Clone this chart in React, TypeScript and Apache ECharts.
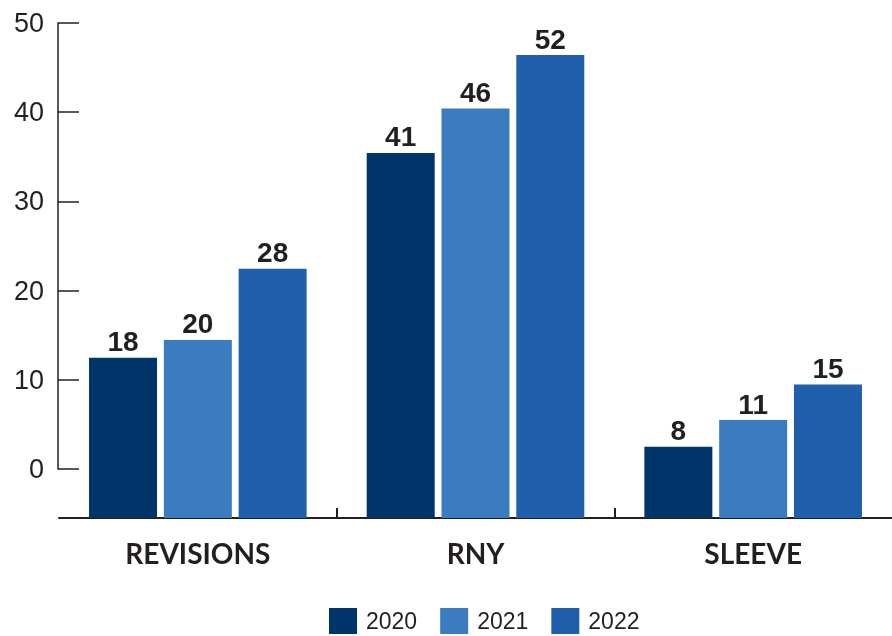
import React, { useEffect, useRef } from "react";
import * as echarts from "echarts";

const categories = ["REVISIONS", "RNY", "SLEEVE"];
const seriesNames = ["2020", "2021", "2022"];
const values2020 = [18, 41, 8];
const values2021 = [20, 46, 11];
const values2022 = [28, 52, 15];
const yTickMin = 0;
const yTickMax = 50;
const yTickStep = 10;
const categoryBoundaryTicks = [1, 2];
const colors = ["#00356a", "#3b7bbf", "#1f5fab"];

const TEXT = "#231f20";

export default function App() {
  const ref = useRef<HTMLDivElement>(null);
  useEffect(() => {
    const chart = echarts.init(ref.current!, null, { renderer: "svg" });
    const seriesData = [values2020, values2021, values2022];
    chart.setOption({
      animation: false,
      grid: [
        { left: 59, right: -5, top: 23, bottom: 118 },
        { left: 58, width: 100, top: 23, height: 446 },
      ],
      legend: {
        data: seriesNames,
        left: 329,
        top: 608,
        padding: 0,
        itemWidth: 28,
        itemHeight: 26,
        itemGap: 23,
        icon: "rect",
        textStyle: {
          fontSize: 23,
          lineHeight: 24,
          color: TEXT,
          fontFamily: "Liberation Sans",
          padding: [0, 0, 0, 4],
        },
      },
      xAxis: [
        {
          type: "category",
          data: categories,
          gridIndex: 0,
          axisLine: { show: true, lineStyle: { color: TEXT, width: 2 } },
          axisTick: { show: false },
          axisLabel: {
            fontFamily: "Lato",
            fontWeight: "bold",
            fontSize: 28,
            color: TEXT,
            margin: 21,
          },
        },
        {
          type: "value",
          gridIndex: 0,
          min: 0,
          max: categories.length,
          position: "bottom",
          axisLine: { show: false },
          splitLine: { show: false },
          axisLabel: { show: false },
          axisTick: {
            show: true,
            inside: true,
            length: 10,
            customValues: categoryBoundaryTicks,
            lineStyle: { color: TEXT, width: 2 },
          },
        },
        { type: "value", gridIndex: 1, show: false },
      ],
      yAxis: [
        { type: "value", gridIndex: 0, min: 0, max: 55.6, show: false },
        {
          type: "value",
          gridIndex: 1,
          min: yTickMin,
          max: yTickMax,
          interval: yTickStep,
          axisLine: { show: true, lineStyle: { color: TEXT, width: 1.5 } },
          axisTick: { show: true, inside: true, length: 21, lineStyle: { color: TEXT, width: 1.5 } },
          splitLine: { show: false },
          axisLabel: {
            fontFamily: "Liberation Sans",
            fontSize: 27,
            color: TEXT,
            margin: 14,
          },
        },
      ],
      series: seriesNames.map((name, i) => ({
        type: "bar",
        name,
        xAxisIndex: 0,
        yAxisIndex: 0,
        data: seriesData[i],
        barWidth: 68,
        barGap: "10%",
        itemStyle: { color: colors[i] },
        label: {
          show: true,
          position: "top",
          distance: 2,
          fontFamily: "Liberation Sans",
          fontWeight: "bold",
          fontSize: 28,
          color: TEXT,
        },
      })),
    });
    return () => chart.dispose();
  }, []);
  return (
    <div
      ref={ref}
      style={{ position: "fixed", left: 0, top: 0, width: 892, height: 636 }}
    />
  );
}
